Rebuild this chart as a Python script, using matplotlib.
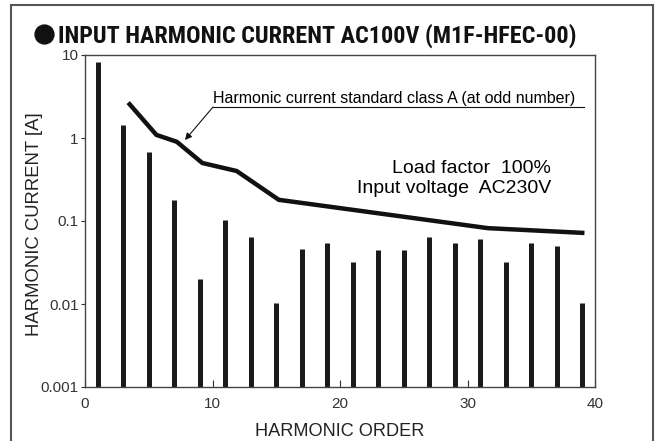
import matplotlib
matplotlib.use('Agg')
import matplotlib.pyplot as plt
from matplotlib.patches import Rectangle
from matplotlib.lines import Line2D

# harmonic orders and measured input current [A]
orders = [1, 3, 5, 7, 9, 11, 13, 15, 17, 19, 21, 23, 25, 27, 29, 31, 33, 35, 37, 39]
currents = [8.2, 1.45, 0.68, 0.18, 0.02, 0.102, 0.065, 0.0102, 0.046, 0.055,
            0.032, 0.045, 0.045, 0.065, 0.054, 0.06, 0.032, 0.054, 0.05, 0.0102]

# class A standard limit line as drawn
std_orders = [3.5, 5.6, 7.2, 9.2, 11.9, 15.2, 31.6, 39.0]
std_limits = [2.55, 1.09, 0.90, 0.50, 0.40, 0.18, 0.082, 0.072]

xticks = [0, 10, 20, 30, 40]
yticks = [0.001, 0.01, 0.1, 1, 10]
ytick_labels = ['0.001', '0.01', '0.1', '1', '10']

plt.rcParams['font.family'] = ['Liberation Sans', 'DejaVu Sans']
narrow_fonts = ['Liberation Sans Narrow', 'Arial Narrow', 'Roboto Condensed',
                'Noto Sans Condensed', 'Open Sans Condensed', 'Liberation Sans']

W, H = 658, 441
fig = plt.figure(figsize=(W / 100, H / 100), dpi=100)
ax = fig.add_axes([85 / W, 1 - 387 / H, 510 / W, 332 / H])

ax.vlines(orders, 0.001, currents, colors='#1a1a1a', linewidth=3.6, capstyle='butt')
ax.plot(std_orders, std_limits, color='#111111', linewidth=3.2, solid_joinstyle='miter')

ax.set_yscale('log')
ax.set_xlim(0, 40)
ax.set_ylim(0.001, 10)
ax.set_xticks(xticks)
ax.set_xticklabels([str(t) for t in xticks])
ax.set_yticks(yticks)
ax.set_yticklabels(ytick_labels)
ax.minorticks_off()
ax.tick_params(axis='x', direction='in', length=5, width=0.8, labelsize=11, pad=7, colors='#333333')
ax.tick_params(axis='y', direction='out', length=3, width=0.8, labelsize=11, pad=1.5, colors='#333333')
for s in ax.spines.values():
    s.set_color('#444444')
    s.set_linewidth(1.0)

ax.set_xlabel('HARMONIC ORDER', fontsize=13.1, color='#222222')
ax.xaxis.set_label_coords(0.5, -0.108)
ax.set_ylabel('HARMONIC CURRENT [A]', fontsize=13.3, color='#222222')
ax.yaxis.set_label_coords(-0.082, 0.49)

# leader annotation for the standard line
ax.annotate('', xy=(7.84, 0.946), xytext=(10.04, 2.36),
            arrowprops=dict(arrowstyle='-|>', color='#111111', lw=0.8,
                            mutation_scale=10, shrinkA=0, shrinkB=0))
ax.plot([10.04, 39.14], [2.36, 2.36], color='#111111', lw=0.8)
ax.text(10.04, 2.64, 'Harmonic current standard class A (at odd number)',
        fontsize=11.5, ha='left', va='baseline')

ax.text(36.55, 0.382, 'Load factor  100%', fontsize=14, ha='right', va='baseline')
ax.text(36.55, 0.217, 'Input voltage  AC230V', fontsize=14, ha='right', va='baseline')

# title with bullet; fit the condensed bold title to its width in the original
fig.add_artist(Line2D([43.5 / W], [1 - 34 / H], marker='o', markersize=13.6,
                      color='#111111', transform=fig.transFigure))
title = fig.text(58 / W, 1 - 43 / H, 'INPUT HARMONIC CURRENT AC100V (M1F-HFEC-00)',
                 fontsize=18, fontweight='bold', fontstretch='condensed', family=narrow_fonts,
                 ha='left', va='baseline', color='#111111')
renderer = fig.canvas.get_renderer()
tw = title.get_window_extent(renderer).width
title.set_fontsize(18 * 519 / tw)

# outer frame
fig.patches.append(Rectangle((10.5 / W, -0.05), 642 / W, 1 - 5 / H + 0.05,
                             transform=fig.transFigure, fill=False,
                             edgecolor='#555555', linewidth=1.5))

fig.savefig('out.png', dpi=100)
